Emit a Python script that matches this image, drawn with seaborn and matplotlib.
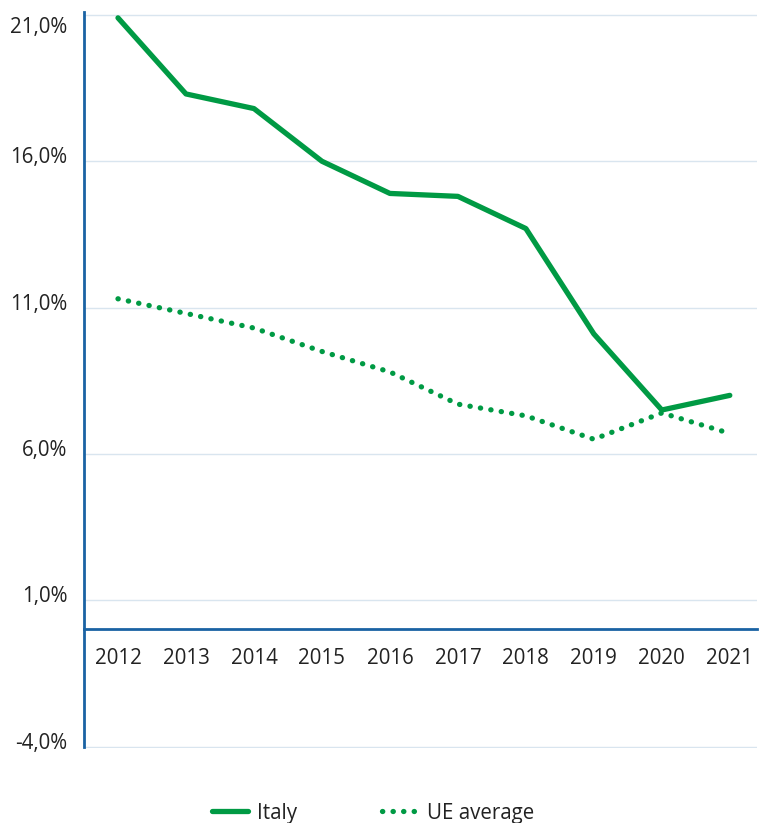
import matplotlib
matplotlib.use("Agg")
import matplotlib.pyplot as plt
import matplotlib.transforms as mtransforms
import seaborn as sns
import pandas as pd
from matplotlib.ticker import FuncFormatter

years = [2012, 2013, 2014, 2015, 2016, 2017, 2018, 2019, 2020, 2021]
italy = [20.9, 18.3, 17.8, 16.0, 14.9, 14.8, 13.7, 10.1, 7.5, 8.0]
ue_average = [11.3, 10.8, 10.3, 9.5, 8.8, 7.7, 7.3, 6.5, 7.4, 6.7]
yticks = [-4, 1, 6, 11, 16, 21]

green = "#009a44"
axis_blue = "#1a62a3"
grid_col = "#d9e5ef"

sns.set_theme(style="white")
plt.rcParams["font.family"] = ["Open Sans", "DejaVu Sans"]

df = pd.DataFrame({"year": years, "Italy": italy, "UE average": ue_average})

fig = plt.figure(figsize=(7.71, 8.23), dpi=100)
ax = fig.add_axes([84 / 771, 1 - 748 / 823, (757 - 84) / 771, (748 - 12) / 823])

sns.lineplot(data=df, x="year", y="Italy", ax=ax, color=green, lw=3.8,
             label="Italy", solid_capstyle="round", solid_joinstyle="round")
sns.lineplot(data=df, x="year", y="UE average", ax=ax, color=green, lw=3.8,
             label="UE average", dash_capstyle="round",
             linestyle=(0, (0.05, 1.95)))

ax.set_xlim(2011.5, 2021.4)
ax.set_yticks(yticks)
ax.yaxis.set_major_formatter(FuncFormatter(lambda v, p: f"{v:.1f}%".replace(".", ",")))
ax.set_xticks(years)
ax.set_xticklabels([str(y) for y in years])
ax.grid(axis="y", color=grid_col, lw=1)
ax.set_axisbelow(True)
ax.set_xlabel("")
ax.set_ylabel("")

for s in ["top", "right"]:
    ax.spines[s].set_visible(False)
ax.spines["left"].set_color(axis_blue)
ax.spines["left"].set_linewidth(2)
ax.spines["bottom"].set_color(axis_blue)
ax.spines["bottom"].set_linewidth(2)
ax.spines["bottom"].set_position(("data", 0))
ax.spines["left"].set_bounds(-4.0, 21.1)
ax.set_ylim(-4.05, 21.1)

ax.tick_params(axis="both", length=0, labelsize=14.8, colors="#222222")
ax.tick_params(axis="x", pad=13)
ax.tick_params(axis="y", pad=12)

# raise y labels a little above their gridline, keep the top one inside
fig.canvas.draw()
for lbl in ax.get_yticklabels():
    dy = -10 if lbl.get_text().startswith("21") else 6
    lbl.set_transform(lbl.get_transform() +
                      mtransforms.ScaledTranslation(0, dy / 100, fig.dpi_scale_trans))

handles, labels = ax.get_legend_handles_labels()
ax.legend_.remove()
fig.legend(handles, labels, loc="center", bbox_to_anchor=(373 / 771, 1 - 813 / 823),
           ncol=2, frameon=False, fontsize=14.8, handlelength=1.75,
           handletextpad=0.45, columnspacing=4.1, labelcolor="#222222")

fig.savefig("out.png", dpi=100)
